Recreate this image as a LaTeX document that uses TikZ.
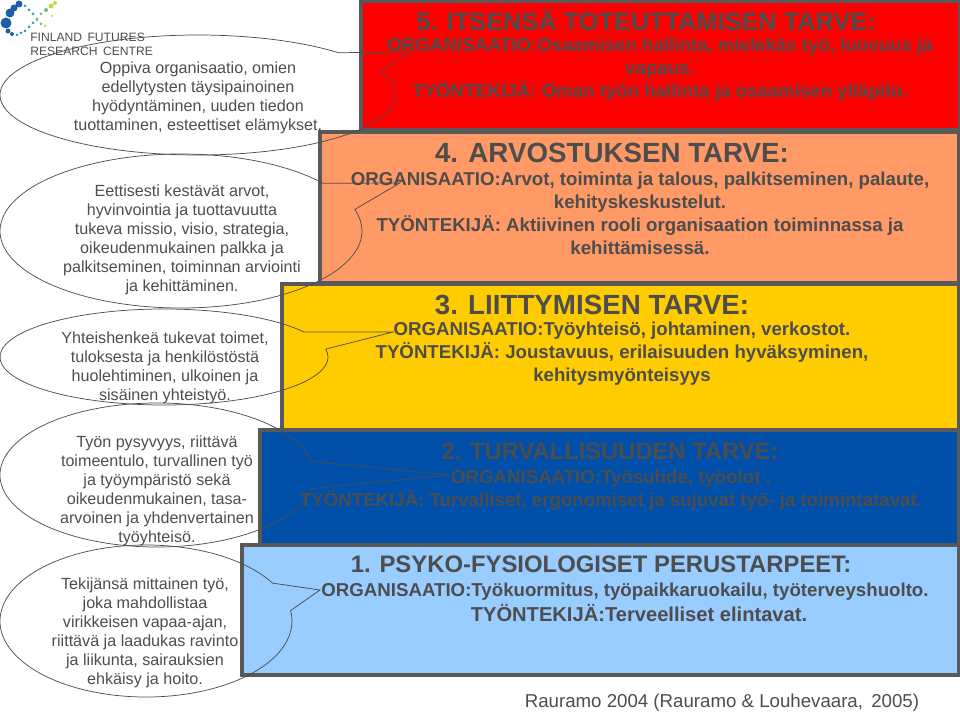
\documentclass[tikz,border=0pt]{standalone}
\usepackage{fontspec}
\setmainfont{Liberation Sans}
\usetikzlibrary{shapes.callouts}
\definecolor{BorderGray}{HTML}{595959}
\definecolor{TextGray}{HTML}{4D4D4D}
\definecolor{LevelRed}{HTML}{FF0000}
\definecolor{LevelOrange}{HTML}{FF9966}
\definecolor{LevelYellow}{HTML}{FFCC00}
\definecolor{LevelBlue}{HTML}{0050AA}
\definecolor{LevelSky}{HTML}{99CCFF}
\definecolor{LogoBlue}{HTML}{1F5FA8}
\definecolor{LogoTeal}{HTML}{2E9DB0}
\definecolor{LogoGreen}{HTML}{6FBE8A}
\definecolor{LogoLime}{HTML}{C4D84A}
\begin{document}
\begin{tikzpicture}[x=0.75pt, y=-0.75pt,
  level/.style={draw=BorderGray, line width=2.4pt, inner sep=0pt, outer sep=0pt, anchor=north west},
  balloon/.style={ellipse callout, draw=TextGray, line width=0.55pt, inner sep=0pt, outer sep=0pt, callout pointer arc=22},
  balloontext/.style={align=center, text=TextGray, font=\fontsize{12.1}{14.3}\selectfont},
  title/.style={text=TextGray, font=\fontsize{#1}{20}\selectfont\bfseries},
  body/.style={align=center, text=TextGray, font=\fontsize{14}{17.3}\selectfont\bfseries},
]
  \useasboundingbox (0,0) rectangle (960,717);
  % needs, top level first so that each lower level overlaps it
  \node[level, fill=LevelRed, minimum width=598.5*0.75pt, minimum height=129*0.75pt] (box5) at (361,1) {};
  \node[level, fill=LevelOrange, minimum width=639*0.75pt, minimum height=151*0.75pt] (box4) at (320,132) {};
  \node[level, fill=LevelYellow, minimum width=677*0.75pt, minimum height=146*0.75pt] (box3) at (282,284) {};
  \node[level, fill=LevelBlue, minimum width=699*0.75pt, minimum height=115*0.75pt] (box2) at (260,430) {};
  \node[level, fill=LevelSky, minimum width=717*0.75pt, minimum height=130*0.75pt] (box1) at (242,545) {};
  % texts of the levels
  \node[title=19] (title5) at (646,20) {5. ITSENSÄ TOTEUTTAMISEN TARVE:};
  \node[body] (body5) at (660,70) {ORGANISAATIO:Osaamisen hallinta, mielekäs työ, luovuus ja\\vapaus.\\TYÖNTEKIJÄ: Oman työn hallinta ja osaamisen ylläpito.};
  \node[title=20.8] (title4) at (612,153) {4. ARVOSTUKSEN TARVE:};
  \node[body] (body4) at (640,213) {ORGANISAATIO:Arvot, toiminta ja talous, palkitseminen, palaute,\\kehityskeskustelut.\\TYÖNTEKIJÄ: Aktiivinen rooli organisaation toiminnassa ja\\kehittämisessä.};
  \node[title=20.8] (title3) at (592,305) {3. LIITTYMISEN TARVE:};
  \node[body] (body3) at (622,354) {ORGANISAATIO:Työyhteisö, johtaminen, verkostot.\\TYÖNTEKIJÄ: Joustavuus, erilaisuuden hyväksyminen,\\kehitysmyönteisyys};
  \node[title=17.8] (title2) at (610,451) {2. TURVALLISUUDEN TARVE:};
  \node[body] (body2) at (611,490) {ORGANISAATIO:Työsuhde, työolot .\\TYÖNTEKIJÄ: Turvalliset, ergonomiset ja sujuvat työ- ja toimintatavat.};
  \node[title=17.9] (title1) at (601,564) {1. PSYKO-FYSIOLOGISET PERUSTARPEET:};
  \node[body] (body1a) at (625,592) {ORGANISAATIO:Työkuormitus, työpaikkaruokailu, työterveyshuolto.};
  \node[body, font=\fontsize{15.1}{18}\selectfont\bfseries] (body1b) at (639,613) {TYÖNTEKIJÄ:Terveelliset elintavat.};
  % speech balloons on the left, only outlines
  \node[balloon, minimum width=297pt, minimum height=90pt, callout absolute pointer={(410,52)}] (call5) at (198,95) {};
  \node[balloon, minimum width=271.5pt, minimum height=115.5pt, callout absolute pointer={(400,183)}] (call4) at (181,231) {};
  \node[balloon, minimum width=246pt, minimum height=72pt, callout absolute pointer={(393,332)}] (call3) at (164,357) {};
  \node[balloon, minimum width=235.5pt, minimum height=108pt, callout absolute pointer={(450,475)}] (call2) at (157,475) {};
  \node[balloon, minimum width=219pt, minimum height=114pt, callout absolute pointer={(320,590)}] (call1) at (146,621) {};
  \node[balloontext] (text5) at (198,98) {Oppiva organisaatio, omien\\edellytysten täysipainoinen\\hyödyntäminen, uuden tiedon\\tuottaminen, esteettiset elämykset.};
  \node[balloontext] (text4) at (182,240) {Eettisesti kestävät arvot,\\hyvinvointia ja tuottavuutta\\tukeva missio, visio, strategia,\\oikeudenmukainen palkka ja\\palkitseminen, toiminnan arviointi\\ja kehittäminen.};
  \node[balloontext] (text3) at (165,368) {Yhteishenkeä tukevat toimet,\\tuloksesta ja henkilöstöstä\\huolehtiminen, ulkoinen ja\\sisäinen yhteistyö.};
  \node[balloontext] (text2) at (157,491) {Työn pysyvyys, riittävä\\toimeentulo, turvallinen työ\\ja työympäristö sekä\\oikeudenmukainen, tasa-\\arvoinen ja yhdenvertainen\\työyhteisö.};
  \node[balloontext] (text1) at (145,633) {Tekijänsä mittainen työ,\\joka mahdollistaa\\virikkeisen vapaa-ajan,\\riittävä ja laadukas ravinto\\ja liikunta, sairauksien\\ehkäisy ja hoito.};
  % logo
  \foreach \px/\py/\pr/\pc in {19/4/3.5/LogoBlue, 14/8/3.5/LogoBlue, 10/13/4.5/LogoBlue, 6/23/5.5/LogoBlue, 8/31/2.5/LogoBlue, 12/34/2/LogoBlue, 17/35/1.5/LogoTeal, 21/33/1.5/LogoTeal, 25/31/1.5/LogoTeal, 29/27/1.5/LogoTeal, 33/23/1.5/LogoTeal, 37/19/1.5/LogoGreen, 41/14/1.5/LogoGreen, 46/10/2/LogoGreen, 51/6/2.5/LogoLime, 55/3/2/LogoLime, 25/6/1.5/LogoTeal, 29/10/1.5/LogoTeal, 33/14/1.5/LogoTeal, 37/20/1.5/LogoGreen, 41/24/1.5/LogoGreen, 45/26/1.5/LogoLime, 52/16/1.2/LogoLime}
    \fill[\pc] (\px,\py) circle (\pr*0.75pt);
  \node[anchor=west, inner sep=0pt, text=TextGray, font=\fontsize{9.1}{10.6}\selectfont, align=left] (logotext) at (30,44) {FINLAND\, FUTURES\\RESEARCH\, CENTRE};
  % source
  \node[text=TextGray, font=\fontsize{14}{16}\selectfont] (source) at (722,703) {Rauramo 2004 (Rauramo \& Louhevaara,\, 2005)};
\end{tikzpicture}
\end{document}
